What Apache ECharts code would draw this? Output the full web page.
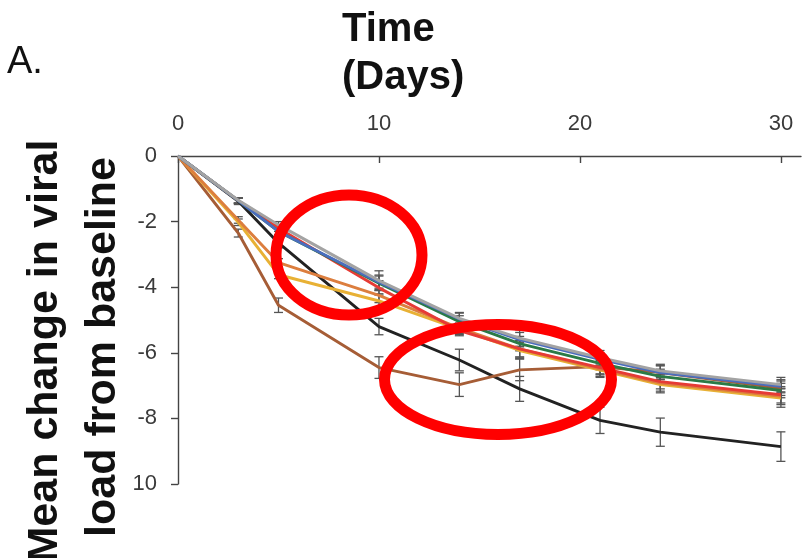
<!DOCTYPE html>
<html>
<head>
<meta charset="utf-8">
<script src="https://cdn.jsdelivr.net/npm/echarts@6/dist/echarts.min.js"></script>
<style>
  html, body { margin: 0; padding: 0; background: #ffffff; }
  #chart { width: 802px; height: 558px; }
</style>
</head>
<body>
<div id="chart"></div>
<script>
// Sampling days
const days = [0, 3, 5, 10, 14, 17, 21, 24, 30];

// Mean change in viral load per arm
const greyMean   = [0, -1.35, -2.10, -3.80, -4.95, -5.55, -6.15, -6.55, -6.97];
const blueMean   = [0, -1.36, -2.30, -3.85, -4.97, -5.60, -6.20, -6.60, -7.02];
const greenMean  = [0, -1.36, -2.30, -3.88, -5.05, -5.72, -6.32, -6.72, -7.15];
const redMean    = [0, -1.36, -2.20, -4.02, -5.32, -5.88, -6.45, -6.88, -7.28];
const orangeMean = [0, -1.95, -3.25, -4.25, -5.25, -5.88, -6.50, -6.92, -7.33];
const yellowMean = [0, -2.02, -3.62, -4.42, -5.28, -5.93, -6.53, -6.97, -7.38];
const brownMean  = [0, -2.35, -4.55, -6.45, -6.97, -6.52, -6.42, -6.60, -7.08];
const blackMean  = [0, -1.38, -2.65, -5.20, -6.22, -7.10, -8.06, -8.42, -8.86];

// Error bar half-widths per arm
const greyErr   = [0, 0.08, 0.10, 0.30, 0.18, 0.25, 0.22, 0.20, 0.22];
const blueErr   = [0, 0.08, 0.10, 0.22, 0.18, 0.22, 0.20, 0.20, 0.20];
const greenErr  = [0, 0.08, 0.10, 0.22, 0.18, 0.22, 0.20, 0.22, 0.22];
const redErr    = [0, 0.08, 0.10, 0.22, 0.16, 0.25, 0.22, 0.22, 0.25];
const orangeErr = [0, 0.10, 0.12, 0.22, 0.16, 0.25, 0.22, 0.25, 0.25];
const yellowErr = [0, 0.10, 0.12, 0.22, 0.16, 0.25, 0.22, 0.25, 0.28];
const brownErr  = [0, 0.12, 0.22, 0.33, 0.36, 0.33, 0.22, 0.22, 0.22];
const blackErr  = [0, 0.10, 0.15, 0.25, 0.33, 0.38, 0.40, 0.43, 0.45];

// Axis ticks
const xTickValues = [0, 10, 20, 30];
const xTickLabels = ['0', '10', '20', '30'];
const yTickValues = [0, -2, -4, -6, -8, -10];
const yTickLabels = ['0', '-2', '-4', '-6', '-8', '10'];

const arms = [
  { name: 'black',  mean: blackMean,  err: blackErr,  color: '#222222' },
  { name: 'brown',  mean: brownMean,  err: brownErr,  color: '#A65D36' },
  { name: 'yellow', mean: yellowMean, err: yellowErr, color: '#E8B135' },
  { name: 'orange', mean: orangeMean, err: orangeErr, color: '#DC7E3E' },
  { name: 'red',    mean: redMean,    err: redErr,    color: '#E63B35' },
  { name: 'green',  mean: greenMean,  err: greenErr,  color: '#2A7A46' },
  { name: 'blue',   mean: blueMean,   err: blueErr,   color: '#4A6DBE' },
  { name: 'grey',   mean: greyMean,   err: greyErr,   color: '#A3A3A3' }
];

const FONT = '"Liberation Sans", Arial, sans-serif';

function errorBarRender(params, api) {
  const x = api.value(0);
  const m = api.value(1);
  const e = api.value(2);
  if (!e) return null;
  const top = api.coord([x, m + e]);
  const bot = api.coord([x, m - e]);
  const half = 4.5;
  const style = { stroke: '#555555', lineWidth: 1.3 };
  return {
    type: 'group',
    children: [
      { type: 'line', shape: { x1: top[0], y1: top[1], x2: bot[0], y2: bot[1] }, style },
      { type: 'line', shape: { x1: top[0] - half, y1: top[1], x2: top[0] + half, y2: top[1] }, style },
      { type: 'line', shape: { x1: bot[0] - half, y1: bot[1], x2: bot[0] + half, y2: bot[1] }, style }
    ]
  };
}

const series = [];
arms.forEach(function (arm) {
  series.push({
    type: 'custom',
    name: arm.name + ' error',
    renderItem: errorBarRender,
    data: days.map(function (d, i) { return [d, arm.mean[i], arm.err[i]]; }),
    z: 1,
    silent: true
  });
});
arms.forEach(function (arm, k) {
  series.push({
    type: 'line',
    name: arm.name,
    data: days.map(function (d, i) { return [d, arm.mean[i]]; }),
    symbol: 'none',
    lineStyle: { color: arm.color, width: 2.9 },
    itemStyle: { color: arm.color },
    z: 2 + k,
    silent: true
  });
});

const chart = echarts.init(document.getElementById('chart'), null, { renderer: 'canvas' });
chart.setOption({
  animation: false,
  backgroundColor: '#ffffff',
  grid: { left: 178, top: 156, right: 1, bottom: 74, containLabel: false },
  xAxis: {
    type: 'value',
    position: 'top',
    min: 0,
    max: 31,
    interval: 10,
    axisLine: { show: true, lineStyle: { color: '#444', width: 1.4 } },
    axisTick: { show: true, inside: true, length: 7, customValues: xTickValues, lineStyle: { color: '#444', width: 1.4 } },
    axisLabel: {
      show: true,
      customValues: xTickValues,
      margin: 21,
      color: '#3a3a3a',
      fontFamily: FONT,
      fontSize: 22,
      formatter: function (v) { const i = xTickValues.indexOf(v); return i >= 0 ? xTickLabels[i] : ''; }
    },
    splitLine: { show: false }
  },
  yAxis: {
    type: 'value',
    min: -10,
    max: 0,
    interval: 2,
    axisLine: { show: true, onZero: false, lineStyle: { color: '#444', width: 1.4 } },
    axisTick: { show: true, inside: false, length: 7, lineStyle: { color: '#444', width: 1.4 } },
    axisLabel: {
      show: true,
      margin: 21,
      color: '#3a3a3a',
      fontFamily: FONT,
      fontSize: 22,
      formatter: function (v) { const i = yTickValues.indexOf(v); return i >= 0 ? yTickLabels[i] : ''; }
    },
    splitLine: { show: false }
  },
  series: series,
  graphic: [
    { type: 'text', left: 7, top: 44, style: { text: 'A.', font: 'normal 38px ' + FONT, fill: '#111' } },
    { type: 'text', x: 342, y: 30, style: { text: 'Time', font: 'bold 40px ' + FONT, fill: '#111', textAlign: 'left', textVerticalAlign: 'middle' } },
    { type: 'text', x: 342, y: 78, style: { text: '(Days)', font: 'bold 40px ' + FONT, fill: '#111', textAlign: 'left', textVerticalAlign: 'middle' } },
    { type: 'text', x: 45, y: 351, rotation: Math.PI / 2, style: { text: 'Mean change in viral', font: 'bold 43px ' + FONT, fill: '#111', textAlign: 'center', textVerticalAlign: 'middle' } },
    { type: 'text', x: 103, y: 347, rotation: Math.PI / 2, style: { text: 'load from baseline', font: 'bold 43px ' + FONT, fill: '#111', textAlign: 'center', textVerticalAlign: 'middle' } },
    // highlighted regions
    { type: 'ellipse', z: 100, shape: { cx: 349, cy: 255, rx: 73, ry: 60 }, style: { fill: 'none', stroke: '#FF0000', lineWidth: 11 } },
    { type: 'ellipse', z: 100, shape: { cx: 498, cy: 379.5, rx: 113.5, ry: 55 }, style: { fill: 'none', stroke: '#FF0000', lineWidth: 11 } }
  ]
});
</script>
</body>
</html>
